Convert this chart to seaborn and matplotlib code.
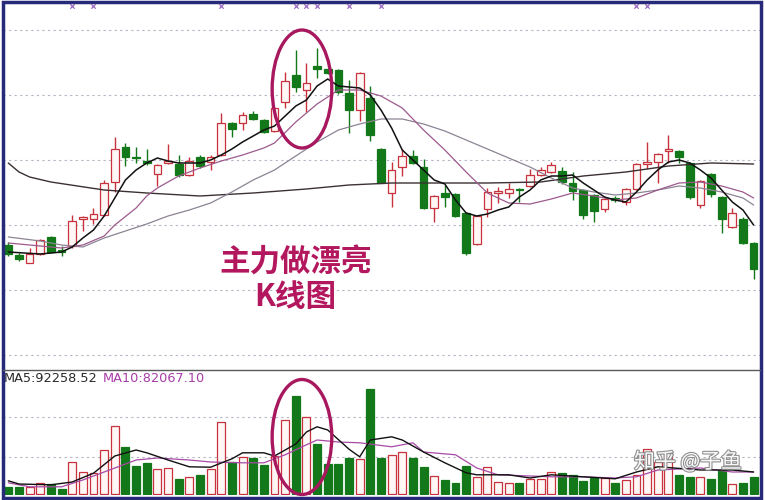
import numpy as np
import pandas as pd
import seaborn as sns
import matplotlib
matplotlib.use("Agg")
import matplotlib.pyplot as plt
import matplotlib.patheffects as pe
from matplotlib.patches import Ellipse, Rectangle
from matplotlib.lines import Line2D

# daily candles
opens = [25.5, 24.5, 23.7, 24.6, 26.3, 25.0, 25.4, 28.1, 28.1, 28.5,
         31.8, 35.3, 34.3, 33.9, 32.6, 33.7, 33.6, 32.5, 34.3, 33.8,
         34.5, 37.7, 37.7, 38.6, 38.0, 36.9, 39.8, 42.5, 41.0, 43.4,
         43.1, 43.0, 40.7, 39.0, 40.2, 35.1, 30.7, 33.3, 34.4, 33.3,
         29.2, 30.7, 30.6, 28.7, 25.6, 29.1, 30.7, 30.7, 31.1, 31.4,
         32.5, 32.8, 32.9, 31.7, 31.0, 30.5, 29.1, 30.2, 29.8, 31.1,
         33.6, 33.8, 34.9, 34.9, 33.7, 29.5, 32.6, 30.3, 27.3, 28.1, 25.7]
closes = [24.6, 24.1, 24.6, 26.0, 24.8, 24.8, 27.9, 28.3, 28.6, 31.7,
          35.1, 34.3, 34.2, 33.7, 33.5, 33.9, 32.5, 33.9, 33.4, 34.3,
          37.7, 37.1, 38.5, 38.1, 36.8, 39.2, 41.9, 41.3, 41.7, 43.1,
          42.7, 40.8, 39.0, 42.7, 36.5, 31.7, 33.0, 34.4, 33.7, 29.2,
          30.4, 30.3, 28.4, 24.7, 28.4, 30.8, 30.9, 31.1, 31.0, 32.5,
          33.0, 33.5, 31.8, 30.9, 28.5, 28.9, 30.1, 30.0, 31.1, 33.6,
          33.8, 34.6, 35.1, 34.3, 30.3, 31.9, 30.6, 28.1, 28.7, 25.7, 23.1]
highs = [25.8, 24.7, 25.2, 26.1, 26.4, 25.4, 28.5, 28.4, 29.2, 32.0,
         36.3, 35.7, 35.3, 35.1, 33.6, 35.6, 34.5, 34.3, 34.5, 34.5,
         38.7, 37.8, 38.8, 38.9, 38.1, 39.3, 42.8, 45.0, 43.7, 45.2,
         43.2, 43.1, 42.0, 42.8, 41.4, 35.2, 33.8, 35.1, 35.0, 34.1,
         30.5, 31.5, 30.7, 28.8, 28.5, 31.2, 31.3, 31.7, 31.2, 33.1,
         33.3, 33.8, 33.3, 32.8, 31.1, 30.6, 30.2, 30.4, 31.2, 33.7,
         35.8, 34.7, 36.5, 35.0, 33.8, 32.0, 32.7, 30.4, 29.2, 28.3, 25.8]
lows = [24.4, 23.9, 23.7, 24.5, 24.7, 24.4, 25.2, 26.9, 27.6, 28.4,
        30.8, 33.4, 33.7, 33.5, 31.4, 33.6, 32.3, 32.4, 33.2, 33.0,
        34.4, 36.3, 37.0, 38.0, 36.7, 36.8, 39.2, 40.8, 38.8, 42.2,
        42.6, 40.6, 36.7, 37.9, 35.9, 31.7, 29.3, 32.4, 33.6, 29.1,
        27.8, 29.3, 28.3, 24.5, 25.5, 28.3, 29.7, 30.2, 29.8, 31.3,
        32.4, 32.7, 31.6, 30.0, 28.1, 27.8, 28.8, 29.8, 29.5, 31.0,
        33.1, 31.7, 33.7, 33.7, 30.1, 29.2, 30.3, 26.7, 27.2, 25.6, 22.1]
# volume in thousands of lots
volumes = [17, 18, 18, 28, 25, 13, 81, 54, 52, 110,
           170, 118, 70, 78, 62, 64, 37, 43, 48, 62,
           181, 81, 93, 89, 73, 95, 185, 245, 193, 125,
           75, 75, 90, 88, 263, 89, 98, 106, 89, 68,
           45, 35, 27, 70, 43, 67, 31, 28, 28, 37,
           37, 56, 53, 48, 33, 39, 39, 27, 35, 48,
           112, 81, 106, 48, 43, 43, 37, 60, 25, 28, 42]

# moving average lines, read at selected days
ma5_idx = [0, 3, 5, 6, 7, 8, 9, 10, 11, 12, 13, 14, 15, 16, 18, 19, 20, 21, 22, 24,
           25, 26, 27, 28, 29, 30, 31, 32, 33, 34, 35, 36, 37, 38, 39, 40, 41, 42, 43, 44,
           45, 46, 47, 48, 49, 50, 51, 52, 53, 54, 55, 56, 57, 58, 59, 60, 61, 62, 63, 64,
           65, 66, 67, 68, 69, 70]
ma5 = [24.8, 24.6, 24.8, 25.3, 26.2, 27.0, 28.4, 30.2, 32.0, 33.0, 33.7, 34.2, 33.9, 33.7, 33.7, 34.0, 34.5, 35.1, 35.8, 37.0,
       37.4, 38.4, 39.4, 40.0, 41.4, 42.1, 41.4, 41.3, 41.2, 40.5, 39.0, 37.2, 35.0, 34.0, 33.0, 32.0, 31.6, 30.0, 28.7, 28.4,
       28.6, 29.0, 29.3, 30.3, 31.0, 32.0, 32.4, 32.4, 32.5, 31.7, 31.0, 30.3, 30.0, 29.8, 30.8, 32.0, 33.0, 33.8, 34.0, 33.7,
       33.0, 32.2, 31.0, 29.8, 29.0, 27.5]
ma10_idx = [0, 3, 5, 7, 9, 10, 12, 13, 14, 16, 18, 20, 22, 24, 25, 27, 29, 31, 33, 35,
            37, 39, 41, 43, 45, 47, 49, 51, 53, 55, 57, 59, 61, 63, 65, 67, 69, 70]
ma10 = [25.7, 25.4, 25.2, 25.5, 26.4, 27.5, 29.2, 30.4, 31.2, 32.4, 33.2, 33.9, 34.5, 35.2, 35.7, 37.8, 39.6, 41.0, 41.0, 40.4,
        39.2, 37.0, 35.0, 32.8, 30.7, 29.7, 29.6, 30.1, 30.7, 30.4, 30.0, 30.2, 31.0, 31.7, 31.8, 31.4, 30.8, 30.2]
ma20_idx = [0, 3, 5, 7, 9, 11, 13, 15, 17, 19, 21, 23, 25, 27, 29, 31, 33, 35, 37, 39,
            41, 43, 45, 47, 49, 51, 53, 55, 57, 59, 61, 63, 65, 67, 69, 70]
ma20 = [26.3, 25.9, 25.5, 25.3, 26.2, 26.9, 27.6, 28.4, 29.0, 29.7, 30.8, 32.0, 33.0, 34.4, 35.8, 37.0, 37.6, 38.1, 38.1, 37.6,
        36.9, 36.0, 35.1, 34.2, 33.3, 32.2, 31.2, 30.8, 30.5, 30.7, 31.0, 31.4, 31.2, 30.8, 30.2, 29.5]
ma60_idx = [0, 1, 2, 4, 9, 13, 18, 23, 28, 32, 36, 45, 50, 54, 58, 62, 66, 70]
ma60 = [33.7, 32.8, 32.3, 31.8, 31.0, 30.7, 30.4, 30.7, 31.1, 31.5, 31.7, 31.7, 31.8, 32.4, 32.8, 33.4, 33.7, 33.6]

vma5_idx = [0, 1, 4, 6, 8, 10, 12, 13, 15, 17, 19, 21, 22, 24, 25, 27, 28, 29, 30, 32,
            33, 34, 36, 37, 39, 41, 43, 44, 47, 49, 51, 54, 57, 59, 61, 65, 68, 70]
vma5 = [33, 25, 23, 30, 52, 95, 110, 103, 85, 68, 67, 88, 103, 103, 95, 125, 155, 168, 160, 112,
        93, 135, 143, 135, 105, 78, 53, 48, 48, 40, 48, 43, 38, 55, 68, 60, 60, 55]
vma10_idx = [0, 2, 5, 7, 9, 12, 14, 17, 19, 22, 24, 26, 28, 29, 31, 33, 36, 38, 39, 42,
             44, 46, 51, 54, 57, 59, 61, 65, 68, 70]
vma10 = [28, 18, 18, 35, 55, 85, 90, 85, 80, 78, 78, 98, 123, 135, 130, 128, 118, 128, 105, 98,
         65, 48, 43, 43, 40, 43, 60, 65, 55, 55]

price_grid = [14.5, 21.0, 27.5, 34.0, 40.5, 47.0]
volume_grid = [92.5, 192.5]
signal_days = [6, 8, 20, 27, 28, 29, 32, 35, 59, 60]

UP_EDGE = "#c8323c"
UP_FILL = "#fff6f6"
DOWN = "#13781a"

sns.set_style("white")
plt.rcParams["font.family"] = ["Noto Sans CJK SC", "DejaVu Sans"]

df = pd.DataFrame({"open": opens, "close": closes, "high": highs, "low": lows, "volume": volumes})
df["day"] = np.arange(len(df))
df["up"] = df["close"] >= df["open"]

fig = plt.figure(figsize=(7.65, 5), dpi=100)
ax_p = fig.add_axes([3 / 765, 130 / 500, 757 / 765, 367 / 500])
ax_v = fig.add_axes([3 / 765, 5 / 500, 757 / 765, 125 / 500])

for ax in (ax_p, ax_v):
    ax.set_xlim(-0.5, 70.6)
    ax.set_xticks([])
    ax.set_yticks([])
    for s in ax.spines.values():
        s.set_visible(False)
    ax.set_facecolor("white")

ax_p.set_ylim(13.0, 49.7)
ax_v.set_ylim(-2.5, 310)

for g in price_grid:
    ax_p.axhline(g, color="#b4b4c4", lw=0.8, ls=(0, (2, 3)), zorder=0)
for g in volume_grid:
    ax_v.axhline(g, color="#b4b4c4", lw=0.8, ls=(0, (2, 3)), zorder=0)

# candles
up = df[df["up"]]
dn = df[~df["up"]]
ax_p.vlines(up["day"], up["low"], up["high"], color=UP_EDGE, lw=1, zorder=2)
ax_p.vlines(dn["day"], dn["low"], dn["high"], color=DOWN, lw=1, zorder=2)
ax_p.bar(up["day"], (up["close"] - up["open"]).clip(lower=0.12), bottom=up["open"], width=0.72,
         color=UP_FILL, edgecolor=UP_EDGE, lw=0.9, zorder=3)
ax_p.bar(dn["day"], (dn["open"] - dn["close"]).clip(lower=0.12), bottom=dn["close"], width=0.72,
         color=DOWN, edgecolor=DOWN, lw=0.9, zorder=3)

# moving averages
sns.lineplot(x=ma60_idx, y=ma60, ax=ax_p, color="#3b3133", lw=1.0, zorder=4)
sns.lineplot(x=ma20_idx, y=ma20, ax=ax_p, color="#8c8394", lw=0.9, zorder=4)
sns.lineplot(x=ma10_idx, y=ma10, ax=ax_p, color="#9c5a8c", lw=0.9, zorder=4)
sns.lineplot(x=ma5_idx, y=ma5, ax=ax_p, color="#111111", lw=1.1, zorder=5)

ax_p.scatter(signal_days, [49.45] * len(signal_days), marker="x", s=10, lw=0.9,
             color="#9a6ac0", clip_on=False, zorder=6)

# volume
ax_v.bar(up["day"], up["volume"], width=0.75, color=UP_FILL, edgecolor=UP_EDGE, lw=0.9, zorder=3)
ax_v.bar(dn["day"], dn["volume"], width=0.75, color=DOWN, edgecolor=DOWN, lw=0.9, zorder=3)
sns.lineplot(x=vma10_idx, y=vma10, ax=ax_v, color="#a64aa6", lw=0.9, zorder=4)
sns.lineplot(x=vma5_idx, y=vma5, ax=ax_v, color="#111111", lw=1.0, zorder=5)

ax_v.text(0.001, 0.936, "MA5:92258.52", transform=ax_v.transAxes, fontsize=9.3,
          color="#2a2a2a", va="center", ha="left", family=["DejaVu Sans"])
ax_v.text(0.132, 0.936, "MA10:82067.10", transform=ax_v.transAxes, fontsize=9.3,
          color="#a83ca8", va="center", ha="left", family=["DejaVu Sans"])

# highlight circles
ring = "#a8185e"
ax_p.add_patch(Ellipse((27.58, 41.1), 5.6, 11.8, fill=False, edgecolor=ring, lw=2.4, zorder=7))
ax_v.add_patch(Ellipse((27.58, 142.5), 5.6, 287.5, fill=False, edgecolor=ring, lw=2.4,
                       zorder=7, clip_on=False))

fig.text(296 / 765, 237 / 500, "主力做漂亮", fontsize=22, fontweight="bold", color="#b3175d",
         ha="center", va="center")
fig.text(295 / 765, 203 / 500, "K线图", fontsize=22, fontweight="bold", color="#b3175d",
         ha="center", va="center")

fig.text(688 / 765, 38 / 500, "知乎 @子鱼", fontsize=15, color="white", ha="center", va="center",
         alpha=0.95, path_effects=[pe.withStroke(linewidth=1.6, foreground="#8a8a8a")])

# panel separator and outer frame
fig.add_artist(Line2D([3 / 765, 760 / 765], [130 / 500, 130 / 500], transform=fig.transFigure,
                      color="#5a5a5a", lw=1))
fig.add_artist(Rectangle((2.5 / 765, 2.5 / 500), 758 / 765, 495.5 / 500, transform=fig.transFigure,
                         fill=False, edgecolor="#262a78", lw=2.5))

fig.savefig("out.png", dpi=100, facecolor="white")
